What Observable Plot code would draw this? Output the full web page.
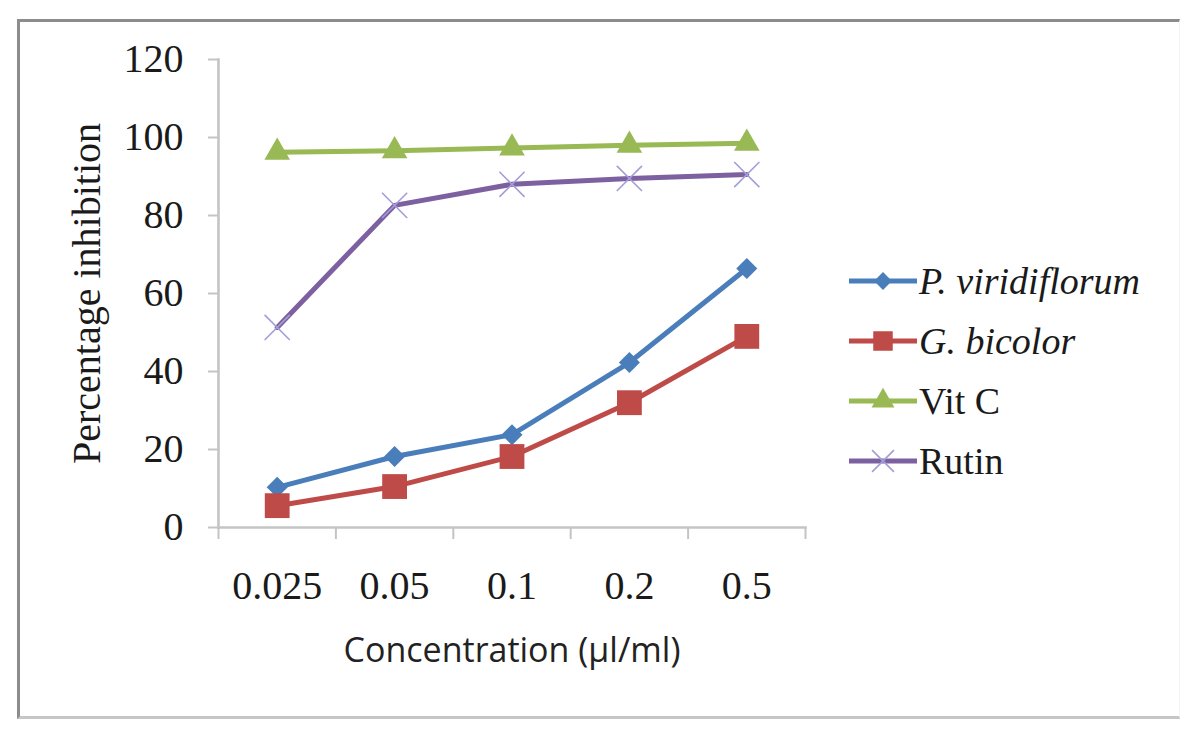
<!DOCTYPE html>
<html><head><meta charset="utf-8">
<script src="https://cdn.jsdelivr.net/npm/d3@7"></script>
<script src="https://cdn.jsdelivr.net/npm/@observablehq/plot@0.6"></script>
<style>
body{margin:0;background:#fff;}
#wrap{position:relative;width:1200px;height:737px;overflow:hidden;}
#chart{position:absolute;left:0;top:0;}
#frame{position:absolute;left:17px;top:19px;width:1163px;height:700px;border-top:3px solid #8c8c8c;border-left:3px solid #8c8c8c;border-bottom:3px solid #c6c6c6;border-right:1px solid #f4f4f4;box-sizing:border-box;pointer-events:none;}
#legend{position:absolute;left:849px;top:251px;color:#1a1a1a;}
.item{display:flex;align-items:center;height:60px;white-space:nowrap;}
.item svg{margin-right:2px;}
.item span{font-family:'Liberation Serif', serif;font-size:38px;}
</style></head><body>
<div id="wrap"><div id="chart"></div><div id="legend"></div><div id="frame"></div></div>
<script>
const concentrations = ["0.025", "0.05", "0.1", "0.2", "0.5"];
const seriesNames = ["P. viridiflorum", "G. bicolor", "Vit C", "Rutin"];
const pViridiflorum = [10.3, 18.2, 23.8, 42.3, 66.4];
const gBicolor = [5.6, 10.5, 18.2, 32.0, 49.0];
const vitC = [96.2, 96.6, 97.3, 98.0, 98.5];
const rutin = [51.3, 82.6, 88.0, 89.5, 90.5];
const yTicks = [0, 20, 40, 60, 80, 100, 120];
const colors = ["#4a7ebb", "#be4b48", "#98b954", "#7d60a0"];
const symbols = ["diamond2", "square", "triangle", "times"];
const italic = [true, true, false, false];

const seriesValues = [pViridiflorum, gBicolor, vitC, rutin];
const rows = [];
seriesValues.forEach((vals, s) => vals.forEach((v, i) => rows.push({series: seriesNames[s], s, i, value: v})));
const idx = d3.range(concentrations.length);
const bounds = d3.range(concentrations.length + 1).map(k => k - 0.5);

const serif = "Liberation Serif";
const axisGray = "#c4c4c4";

const marks = [
  Plot.frame({anchor: "left", stroke: axisGray, strokeWidth: 2.6}),
  Plot.frame({anchor: "bottom", stroke: axisGray, strokeWidth: 2.6}),
  Plot.axisY({ticks: yTicks, tickSize: 10, tickFormat: () => "", stroke: axisGray, strokeWidth: 2, label: null}),
  Plot.axisY({ticks: yTicks, tickSize: 0, tickPadding: 35, fontSize: 40, fontFamily: serif, fill: "#1a1a1a", label: null}),
  Plot.axisX({ticks: bounds, tickSize: 12, tickFormat: () => "", stroke: axisGray, strokeWidth: 2, label: null}),
  Plot.axisX({ticks: idx, tickSize: 0, tickPadding: 43, tickFormat: i => concentrations[i], fontSize: 40, fontFamily: serif, fill: "#1a1a1a", label: null}),
  Plot.text(["Percentage inhibition"], {frameAnchor: "left", textAnchor: "middle", rotate: -90, dx: -131, fontSize: 40, fontFamily: serif, fill: "#1a1a1a"}),
  Plot.text(["Concentration (µl/ml)"], {frameAnchor: "bottom", textAnchor: "middle", dy: 134, fontSize: 34, fontFamily: "Open Sans", fill: "#222"})
];
seriesNames.forEach((name, s) => {
  const d = rows.filter(r => r.s === s);
  marks.push(Plot.line(d, {x: "i", y: "value", stroke: colors[s], strokeWidth: 5}));
});
seriesNames.forEach((name, s) => {
  const d = rows.filter(r => r.s === s);
  if (symbols[s] === "times") {
    marks.push(Plot.dot(d, {x: "i", y: "value", symbol: "times", r: 11.5, stroke: "#a49ed8", strokeWidth: 1.6}));
  } else {
    const r = symbols[s] === "square" ? 14 : symbols[s] === "triangle" ? 9.5 : 9.5;
    marks.push(Plot.dot(d, {x: "i", y: "value", symbol: symbols[s], r, fill: colors[s], stroke: "none"}));
  }
});

const plot = Plot.plot({
  width: 1200,
  height: 737,
  marginLeft: 218,
  marginRight: 395,
  marginTop: 59,
  marginBottom: 210,
  style: {background: "transparent", overflow: "visible"},
  x: {type: "linear", domain: [-0.5, concentrations.length - 0.5]},
  y: {domain: [0, 120]},
  marks
});
document.getElementById("chart").appendChild(plot);

// Legend
const legend = document.getElementById("legend");
seriesNames.forEach((name, s) => {
  const item = document.createElement("div");
  item.className = "item";
  const svg = d3.create("svg").attr("width", 68).attr("height", 30);
  svg.append("line").attr("x1", 0).attr("x2", 68).attr("y1", 15).attr("y2", 15).attr("stroke", colors[s]).attr("stroke-width", 5);
  const sym = {diamond2: d3.symbolDiamond2, square: d3.symbolSquare, triangle: d3.symbolTriangle, times: d3.symbolTimes}[symbols[s]];
  const rr = symbols[s] === "square" ? 11 : symbols[s] === "triangle" ? 8.5 : symbols[s] === "times" ? 10 : 8;
  const p = svg.append("path").attr("transform", "translate(34,15)").attr("d", d3.symbol(sym, Math.PI * rr * rr)());
  if (symbols[s] === "times") p.attr("fill", "none").attr("stroke", "#a49ed8").attr("stroke-width", 1.6);
  else p.attr("fill", colors[s]);
  item.appendChild(svg.node());
  const t = document.createElement("span");
  t.textContent = name;
  t.style.fontFamily = "'Liberation Serif', serif";
  if (italic[s]) t.style.fontStyle = "italic";
  item.appendChild(t);
  legend.appendChild(item);
});
</script>
</body></html>
